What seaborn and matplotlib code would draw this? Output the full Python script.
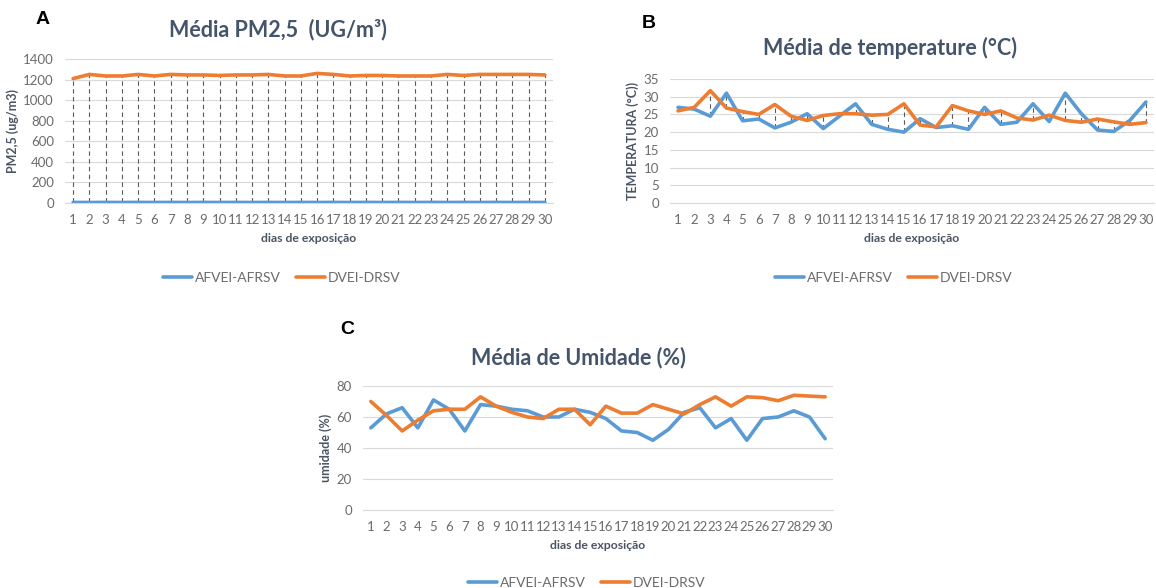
import numpy as np
import pandas as pd
import matplotlib
matplotlib.use("Agg")
import matplotlib.pyplot as plt
from matplotlib.lines import Line2D
from matplotlib.ticker import FixedLocator
import seaborn as sns

# Exposure days and the two groups
days = list(range(1, 31))
groups = ["AFVEI-AFRSV", "DVEI-DRSV"]

# Daily mean PM2.5 (ug/m3)
pm25_afvei = [6, 5, 6, 5, 6, 5, 6, 5, 6, 5, 6, 5, 6, 5, 6,
              5, 6, 5, 6, 5, 6, 5, 6, 5, 6, 5, 6, 5, 6, 5]
pm25_dvei = [1210, 1250, 1235, 1235, 1250, 1235, 1250, 1245, 1245, 1240,
             1245, 1245, 1250, 1235, 1235, 1260, 1250, 1235, 1240, 1240,
             1235, 1235, 1235, 1250, 1240, 1250, 1250, 1250, 1250, 1245]

# Daily mean temperature (°C)
temp_afvei = [27.0, 26.5, 24.5, 31.0, 23.2, 23.7, 21.2, 22.8, 25.2, 21.0,
              24.5, 28.0, 22.2, 20.8, 20.0, 23.8, 21.3, 21.8, 20.8, 27.0,
              22.2, 22.8, 28.0, 23.0, 31.0, 25.2, 20.6, 20.2, 23.3, 28.5]
temp_dvei = [26.0, 27.0, 31.7, 26.8, 25.8, 25.0, 27.8, 24.5, 23.3, 24.7,
             25.2, 25.2, 24.8, 25.0, 28.0, 22.0, 21.5, 27.5, 26.0, 25.0,
             26.0, 24.0, 23.4, 24.8, 23.3, 22.8, 23.7, 22.9, 22.2, 22.7]

# Daily mean relative humidity (%)
umid_afvei = [53, 62, 66, 53, 71, 65, 51, 68, 67, 65,
              64, 60, 60, 65, 63, 59, 51, 50, 45, 52,
              63, 66, 53, 59, 45, 59, 60, 64, 60, 46]
umid_dvei = [70, 61, 51, 58, 64, 65, 65, 73, 67, 63,
             60, 59, 65, 65, 55, 67, 62.5, 62.5, 68, 65,
             62, 68, 73, 67, 73, 72.5, 70.5, 74, 73.5, 73]

sns.set_theme(style="white")
plt.rcParams["font.family"] = ["Lato", "DejaVu Sans"]

BLUE = "#5B9BD5"
ORANGE = "#ED7D31"
TICK = "#6B6B6B"
GRID = "#D9D9D9"
TITLE = "#44546A"
LABEL = "#4A5563"

W, H = 1156, 588
fig = plt.figure(figsize=(W / 100, H / 100), dpi=100)


def rect(x0, x1, ytop, ybot):
    return [x0 / W, 1 - ybot / H, (x1 - x0) / W, (ybot - ytop) / H]


def panel(box, a_vals, b_vals, ymax, ystep, ylabel, drop):
    ax = fig.add_axes(box)
    df = pd.DataFrame({
        "dia": days * 2,
        "valor": a_vals + b_vals,
        "grupo": [groups[0]] * len(days) + [groups[1]] * len(days),
    })
    if drop:
        lo = np.minimum(a_vals, b_vals)
        hi = np.maximum(a_vals, b_vals)
        ax.vlines(days, lo, hi, colors="#5A5A5A", linestyles=(0, (4, 3)),
                  linewidth=0.8, zorder=1)
    sns.lineplot(data=df, x="dia", y="valor", hue="grupo",
                 palette=[BLUE, ORANGE], linewidth=2.6, legend=False,
                 ax=ax, zorder=3)
    ax.set_xlim(0.5, len(days) + 0.5)
    ax.set_ylim(0, ymax)
    ax.set_yticks(np.arange(0, ymax + ystep / 2, ystep))
    ax.set_xticks(days)
    ax.xaxis.set_minor_locator(FixedLocator(np.arange(0.5, len(days) + 1, 1)))
    ax.tick_params(axis="x", which="major", length=0, pad=8,
                   labelsize=9.5, labelcolor=TICK)
    ax.tick_params(axis="x", which="minor", length=4, width=0.8,
                   color=GRID, direction="out")
    ax.tick_params(axis="y", length=0, pad=8, labelsize=9.5, labelcolor=TICK)
    ax.grid(axis="y", color=GRID, linewidth=0.8)
    ax.set_axisbelow(True)
    for s in ["top", "right", "left"]:
        ax.spines[s].set_visible(False)
    ax.spines["bottom"].set_color(GRID)
    ax.spines["bottom"].set_linewidth(0.8)
    ax.set_xlabel("dias de exposição", fontsize=8.8, fontweight="bold",
                  color=LABEL, labelpad=5)
    ax.set_ylabel(ylabel, fontsize=9, fontweight="bold", color=LABEL,
                  labelpad=3)
    return ax


def legend_at(cx, cy):
    handles = [Line2D([], [], color=BLUE, lw=2.6),
               Line2D([], [], color=ORANGE, lw=2.6)]
    fig.legend(handles, groups, loc="center", bbox_to_anchor=(cx / W, 1 - cy / H),
               ncol=2, frameon=False, fontsize=10, handlelength=2.1,
               handletextpad=0.2, columnspacing=1.1, labelcolor=TICK)


# A: PM2.5
panel(rect(65, 553, 59, 203), pm25_afvei, pm25_dvei, 1400, 200,
      "PM2,5 (ug/m3)", True)
fig.text(278 / W, 1 - 30 / H, "Média PM2,5  (UG/m³)", ha="center", va="center",
         fontsize=15.5, fontweight="bold", color=TITLE)
fig.text(43 / W, 1 - 20 / H, "A", ha="center", va="center", fontsize=14,
         fontweight="bold", color="black", family="Liberation Sans")
legend_at(282, 278)

# B: temperature
panel(rect(670, 1154, 79, 203), temp_afvei, temp_dvei, 35, 5,
      "TEMPERATURA (°C))", True)
fig.text(890 / W, 1 - 48 / H, "Média de temperature (°C)", ha="center",
         va="center", fontsize=15.5, fontweight="bold", color=TITLE)
fig.text(649 / W, 1 - 23 / H, "B", ha="center", va="center", fontsize=14,
         fontweight="bold", color="black", family="Liberation Sans")
legend_at(894, 278)

# C: humidity
panel(rect(363, 833, 386, 510), umid_afvei, umid_dvei, 80, 20,
      "umidade (%)", False)
fig.text(578 / W, 1 - 358 / H, "Média de Umidade (%)", ha="center",
         va="center", fontsize=15.5, fontweight="bold", color=TITLE)
fig.text(347 / W, 1 - 330 / H, "C", ha="center", va="center", fontsize=14,
         fontweight="bold", color="black", family="Liberation Sans")
legend_at(587, 583)

fig.savefig("out.png", dpi=100, facecolor="white")
